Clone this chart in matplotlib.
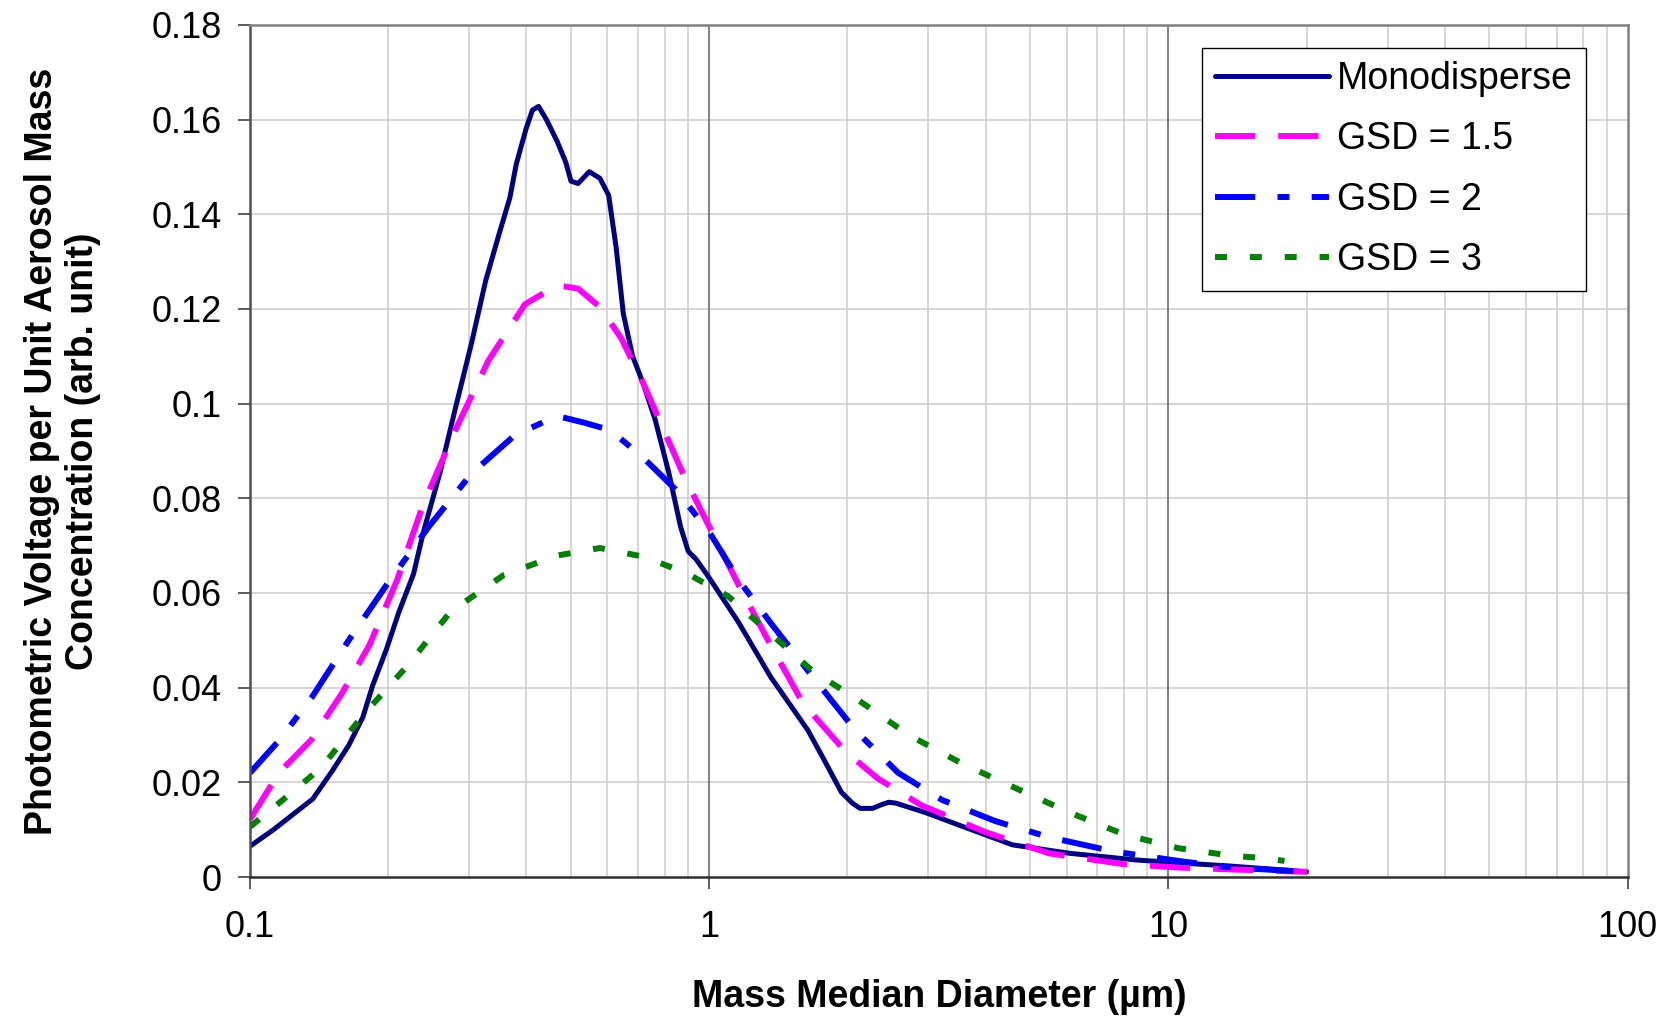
import matplotlib.pyplot as plt
from matplotlib.ticker import FixedLocator, NullFormatter, FixedFormatter

plt.rcParams['font.family'] = ['Liberation Sans', 'DejaVu Sans']
plt.rcParams['lines.scale_dashes'] = False

# Monodisperse
mono_x = [0.1, 0.1125, 0.137, 0.151, 0.164, 0.176, 0.185, 0.198, 0.211, 0.227,
          0.238, 0.259, 0.280, 0.304, 0.326, 0.349, 0.368, 0.380, 0.399, 0.412,
          0.425, 0.442, 0.466, 0.487, 0.500, 0.518, 0.548, 0.578, 0.604, 0.627,
          0.650, 0.681, 0.716, 0.762, 0.817, 0.866, 0.900, 0.935, 1.0, 1.16,
          1.36, 1.64, 1.78, 1.94, 2.05, 2.13, 2.27, 2.36, 2.46, 2.55,
          2.96, 3.58, 4.57, 6.1, 8.5, 10.5, 13.7, 20.0]
mono_y = [0.0065, 0.010, 0.0165, 0.0224, 0.0278, 0.0337, 0.0405, 0.048, 0.056, 0.064,
          0.0725, 0.0853, 0.099, 0.113, 0.126, 0.136, 0.1435, 0.1506, 0.158, 0.162,
          0.1628, 0.160, 0.1555, 0.151, 0.147, 0.1465, 0.149, 0.1476, 0.144, 0.133,
          0.119, 0.110, 0.1046, 0.0967, 0.0853, 0.074, 0.0688, 0.0672, 0.0632, 0.0537,
          0.0423, 0.031, 0.0247, 0.0179, 0.0156, 0.0145, 0.0145, 0.0152, 0.0158, 0.0156,
          0.0136, 0.0106, 0.0068, 0.005, 0.0036, 0.003, 0.0023, 0.0011]

# GSD = 1.5
g15_x = [0.1, 0.1156, 0.136, 0.159, 0.182, 0.209, 0.238, 0.280, 0.330, 0.397,
         0.466, 0.518, 0.578, 0.644, 0.716, 0.796, 0.888, 1.0, 1.16, 1.36,
         1.60, 1.98, 2.33, 2.89, 3.99, 5.49, 8.0, 10.5, 13.7, 20.0]
g15_y = [0.0122, 0.022, 0.029, 0.039, 0.049, 0.0627, 0.0786, 0.0944, 0.109, 0.121,
         0.125, 0.1243, 0.1204, 0.1137, 0.1046, 0.0944, 0.084, 0.074, 0.0616, 0.049,
         0.0367, 0.0265, 0.0208, 0.0152, 0.0095, 0.005, 0.0027, 0.002, 0.0016, 0.0011]

# GSD = 2
g2_x = [0.1, 0.1156, 0.136, 0.164, 0.198, 0.245, 0.304, 0.377, 0.466, 0.533,
        0.609, 0.716, 0.842, 1.0, 1.16, 1.36, 1.68, 2.08, 2.58, 3.21,
        4.2, 5.5, 7.6, 10.5, 13.7, 20.0]
g2_y = [0.022, 0.0288, 0.0378, 0.050, 0.0616, 0.074, 0.0853, 0.0933, 0.0974, 0.096,
        0.0944, 0.0887, 0.082, 0.0729, 0.0627, 0.0537, 0.0423, 0.031, 0.022, 0.0163,
        0.0118, 0.0084, 0.0054, 0.0034, 0.002, 0.0011]

# GSD = 3
g3_x = [0.1, 0.1156, 0.143, 0.177, 0.220, 0.273, 0.357, 0.466, 0.578, 0.716,
        0.888, 1.10, 1.36, 1.68, 2.08, 2.73, 3.58, 4.69, 6.1, 8.0,
        10.5, 13.7, 16.1, 17.9]
g3_y = [0.0106, 0.0156, 0.0231, 0.0344, 0.0446, 0.056, 0.0638, 0.0679, 0.0695, 0.0677,
        0.0643, 0.0593, 0.0514, 0.0435, 0.0378, 0.0299, 0.0238, 0.0186, 0.0136, 0.009,
        0.0061, 0.0045, 0.004, 0.0034]

y_ticks = [0, 0.02, 0.04, 0.06, 0.08, 0.1, 0.12, 0.14, 0.16, 0.18]
y_labels = ['0', '0.02', '0.04', '0.06', '0.08', '0.1', '0.12', '0.14', '0.16', '0.18']
x_ticks = [0.1, 1, 10, 100]
x_labels = ['0.1', '1', '10', '100']

fig = plt.figure(figsize=(16.78, 10.18), dpi=100)
ax = fig.add_axes([0.149, 0.1385, 0.821, 0.837])

ax.plot(mono_x, mono_y, color='#000080', lw=3.6, solid_capstyle='round',
        solid_joinstyle='round', label='Monodisperse')
ax.plot(g15_x, g15_y, color='#FF00FF', lw=4.3, linestyle=(0, (29, 16.5)),
        label='GSD = 1.5')
ax.plot(g2_x, g2_y, color='#0000FF', lw=4.3, linestyle=(0, (29, 16, 8.6, 16)),
        label='GSD = 2')
ax.plot(g3_x, g3_y, color='#008000', lw=4.3, linestyle=(0, (8.6, 16.5)),
        label='GSD = 3')

ax.set_xscale('log')
ax.set_xlim(0.1, 100)
ax.set_ylim(0, 0.18)

# grid
minor_x = [m * 10.0 ** e for e in (-1, 0, 1) for m in range(2, 10)]
for v in minor_x:
    ax.axvline(v, color='#cccccc', lw=1.1, zorder=0)
for v in y_ticks[1:-1]:
    ax.axhline(v, color='#cccccc', lw=1.1, zorder=0)
for v in [1, 10]:
    ax.axvline(v, color='#606060', lw=1.1, zorder=0)

ax.xaxis.set_major_locator(FixedLocator(x_ticks))
ax.xaxis.set_major_formatter(FixedFormatter(x_labels))
ax.xaxis.set_minor_locator(FixedLocator([]))
ax.xaxis.set_minor_formatter(NullFormatter())
ax.yaxis.set_major_locator(FixedLocator(y_ticks))
ax.yaxis.set_major_formatter(FixedFormatter(y_labels))

ax.tick_params(axis='both', direction='out', length=8.5, width=1.2,
               color='#404040', labelsize=26, pad=12)
ax.tick_params(axis='x', pad=15)

for side in ['top', 'right', 'left']:
    ax.spines[side].set_color('#808080')
    ax.spines[side].set_linewidth(1.8)
ax.spines['left'].set_color('#505050')
ax.spines['bottom'].set_color('#303030')
ax.spines['bottom'].set_linewidth(1.8)

ax.set_xlabel('Mass Median Diameter (µm)', fontsize=27, fontweight='bold', labelpad=25)
ax.set_ylabel('Photometric Voltage per Unit Aerosol Mass\nConcentration (arb. unit)',
              fontsize=27, fontweight='bold', labelpad=36, linespacing=1.2)

leg = ax.legend(loc='upper right', bbox_to_anchor=(0.9695, 0.973), fontsize=27,
                handlelength=3.05, handletextpad=0.2, labelspacing=0.65,
                borderpad=0.35, borderaxespad=0, fancybox=False, framealpha=1,
                edgecolor='black')
leg.get_frame().set_linewidth(1.0)

fig.savefig('out.png', dpi=100)
